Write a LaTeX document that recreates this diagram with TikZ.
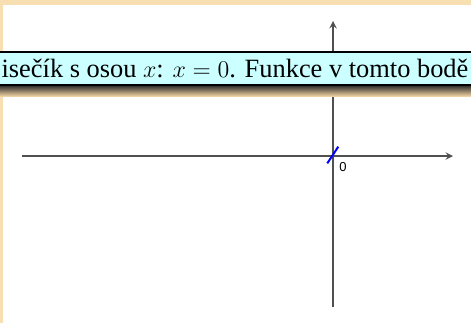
\documentclass[tikz,border=0pt]{standalone}
\usepackage{fontspec}
\setmainfont{Liberation Serif}
\setsansfont{Liberation Sans}
\definecolor{wheatbg}{HTML}{F7DFB2}
\definecolor{boxcyan}{HTML}{CCFFFF}
\definecolor{axisgray}{HTML}{505050}
\tikzset{
  banner/.style={draw=black, thick, fill=boxcyan, minimum width=250pt, minimum height=16.5pt, inner sep=0pt, font=\fontsize{13.2}{15}\selectfont},
  axisline/.style={->, axisgray, line width=0.65pt},
}
\begin{document}
\begin{tikzpicture}[x=0.5pt,y=0.5pt,line join=round,>=stealth]
\useasboundingbox (0,0) rectangle (471,323);
\clip (0,0) rectangle (471,323);
\fill[wheatbg] (0,0) rectangle (471,323);
\fill[white] (3,0) rectangle (471,318.5);
\path
 (22,167) coordinate (L)
 (453,167) coordinate (R)
 (333,16) coordinate (D)
 (333,302) coordinate (U)
 (327.3,159.7) coordinate (P)
 (338.3,176.3) coordinate (Q);
\draw[axisline] (L)--(R);
\draw[axisline] (D)--(U);
\draw[blue, line width=1pt] (P)--(Q);
\node[font=\sffamily\fontsize{6.5}{7}\selectfont, inner sep=0pt] (o) at (343,156) {0};
% stin pod pruhem
\shade[top color=black!85, bottom color=wheatbg!85!brown] (-10,238) rectangle (481,227);
\node[banner] (msg) at (235,254.5) {isečík s osou $x$: $x=0$. Funkce v tomto bodě};
\end{tikzpicture}
\end{document}
